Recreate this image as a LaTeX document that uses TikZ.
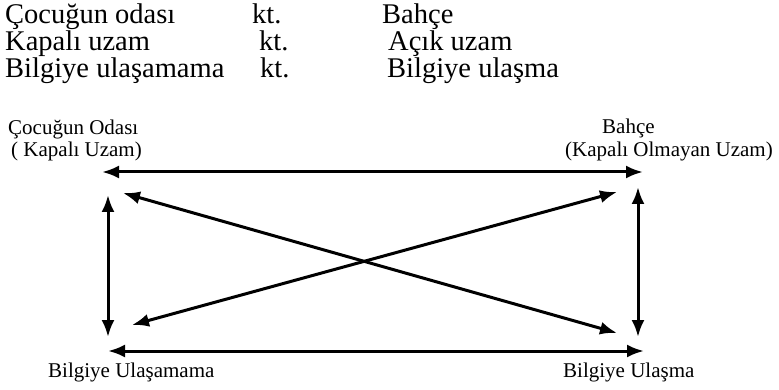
\documentclass[tikz,border=0pt]{standalone}
\usepackage{fontspec}
\setmainfont{Liberation Serif}
\usetikzlibrary{arrows.meta,positioning}
\tikzset{
    row/.style = {anchor=base west, inner sep=0pt,
        font=\fontsize{28.5}{28.5}\selectfont},
    lbl/.style = {anchor=base west, inner sep=0pt,
        font=\fontsize{21}{21}\selectfont},
    endpt/.style = {coordinate},
    link/.style = {draw, line width=3pt, <->}
}

\begin{document}
\begin{tikzpicture}[x=1pt, y=-1pt, >={Latex[length=17pt,width=13pt]}]
        \useasboundingbox (0,0) rectangle (779,390);
        % opposites
        \node [row] (a1) at (5,24) {Çocuğun odası};
        \node [row] (k1) at (252,24) {kt.};
        \node [row] (b1) at (382,24) {Bahçe};
        \node [row] (a2) at (5,51) {Kapalı uzam};
        \node [row] (k2) at (259,51) {kt.};
        \node [row] (b2) at (388,51) {Açık uzam};
        \node [row] (a3) at (5,78) {Bilgiye ulaşamama};
        \node [row] (k3) at (260,78) {kt.};
        \node [row] (b3) at (387,78) {Bilgiye ulaşma};
        % square labels
        \node [lbl] (oda) at (8,135) {Çocuğun Odası};
        \node [lbl] (kapali) at (11,157) {( Kapalı Uzam)};
        \node [lbl] (bahce) at (602,134) {Bahçe};
        \node [lbl] (acik) at (565,157) {(Kapalı Olmayan Uzam)};
        \node [lbl] (yok) at (48,377) {Bilgiye Ulaşamama};
        \node [lbl] (var) at (563,377) {Bilgiye Ulaşma};
        % arrow ends
        \coordinate [endpt] (tl) at (102,172);
        \coordinate [endpt] (tr) at (643,172);
        \coordinate [endpt] (bl) at (108,351);
        \coordinate [endpt] (br) at (644,351);
        \coordinate [endpt] (lt) at (108,195);
        \coordinate [endpt] (lb) at (108,337);
        \coordinate [endpt] (rt) at (638,187);
        \coordinate [endpt] (rb) at (638,337);
        \coordinate [endpt] (dtl) at (123,193);
        \coordinate [endpt] (dbr) at (617,333);
        \coordinate [endpt] (dbl) at (132,325);
        \coordinate [endpt] (dtr) at (617,192);
        \draw [link] (tl) -- (tr);
        \draw [link] (bl) -- (br);
        \draw [link] (lt) -- (lb);
        \draw [link] (rt) -- (rb);
        \draw [link] (dtl) -- (dbr);
        \draw [link] (dbl) -- (dtr);
\end{tikzpicture}
\end{document}
